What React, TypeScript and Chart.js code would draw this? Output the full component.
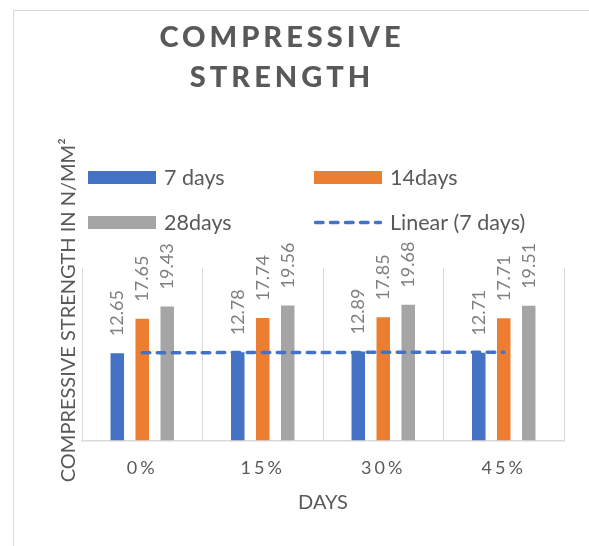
import React, { useEffect, useRef } from 'react';
import { Chart, registerables } from 'chart.js';

Chart.register(...registerables);

const categories = ['0%', '15%', '30%', '45%'];
const days7 = [12.65, 12.78, 12.89, 12.71];
const days14 = [17.65, 17.74, 17.85, 17.71];
const days28 = [19.43, 19.56, 19.68, 19.51];
const trend7 = [12.71, 12.74, 12.77, 12.8];
const seriesLabels = ['7 days', '14days', '28days', 'Linear (7 days)'];
const titleLines = ['COMPRESSIVE', 'STRENGTH'];
const yTitle = 'COMPRESSIVE STRENGTH IN N/MM²';
const xTitle = 'DAYS';
const yMin = 0;
const yMax = 25;

const BLUE = '#4472C4';
const ORANGE = '#ED7D31';
const GRAY = '#A5A5A5';
const TEXT = '#595959';
const LABEL = '#7F7F7F';
const GRID = '#D9D9D9';
const FONT = 'Lato, "Open Sans", sans-serif';

const patchPlugin = {
  id: 'patches',
  beforeDraw(chart: any) {
    const ctx = chart.ctx;
    const t = chart.titleBlock;
    if (t) {
      t.left = 0;
      t.right = 536;
      if (!t.__p) {
        const orig = t.draw.bind(t);
        t.draw = (a: any) => {
          ctx.save();
          (ctx as any).letterSpacing = '4px';
          orig(a);
          ctx.restore();
        };
        t.__p = true;
      }
    }
    const x = chart.scales.x;
    if (x && !x.__p) {
      const o = x.drawLabels.bind(x);
      x.drawLabels = (a: any) => {
        ctx.save();
        (ctx as any).letterSpacing = '3px';
        o(a);
        ctx.restore();
      };
      x.__p = true;
    }
    const y = chart.scales.y;
    if (y && !y.__p) {
      const o = y.drawTitle.bind(y);
      y.drawTitle = (a: any) => {
        ctx.save();
        ctx.translate(0, -44);
        o(a);
        ctx.restore();
      };
      y.__p = true;
    }
  },
};

const dataLabels = {
  id: 'dataLabels',
  afterDatasetsDraw(chart: any) {
    const ctx = chart.ctx;
    chart.data.datasets.forEach((d: any, i: number) => {
      if (d.type === 'line') return;
      const meta = chart.getDatasetMeta(i);
      meta.data.forEach((el: any, j: number) => {
        ctx.save();
        ctx.translate(el.x, el.y - 17);
        ctx.rotate(-Math.PI / 2);
        ctx.font = `18px ${FONT}`;
        ctx.fillStyle = LABEL;
        ctx.textAlign = 'left';
        ctx.textBaseline = 'middle';
        ctx.fillText(Number(d.data[j]).toFixed(2), 0, 0);
        ctx.restore();
      });
    });
  },
};

const gridLegend = {
  id: 'gridLegend',
  afterDraw(chart: any) {
    const { ctx, chartArea } = chart;
    ctx.save();
    chart.data.datasets.forEach((d: any, i: number) => {
      const col = i % 2;
      const row = Math.floor(i / 2);
      const x0 = chartArea.left + (col ? 232 : 6);
      const yc = chartArea.top - (row ? 45.5 : 90.5);
      if (d.type === 'line') {
        ctx.strokeStyle = d.borderColor;
        ctx.lineWidth = d.borderWidth;
        ctx.setLineDash(d.borderDash);
        ctx.lineCap = 'round';
        ctx.beginPath();
        ctx.moveTo(x0 + 1.5, yc);
        ctx.lineTo(x0 + 68 - 1.5, yc);
        ctx.stroke();
        ctx.setLineDash([]);
      } else {
        ctx.fillStyle = d.backgroundColor;
        ctx.fillRect(x0, yc - 6.5, 68, 13);
      }
      ctx.fillStyle = TEXT;
      ctx.font = `21.5px ${FONT}`;
      ctx.textAlign = 'left';
      ctx.textBaseline = 'middle';
      ctx.fillText(d.label, x0 + 76, yc + 1);
    });
    ctx.restore();
  },
};

export default function App() {
  const ref = useRef<HTMLCanvasElement | null>(null);

  useEffect(() => {
    if (!ref.current) return;
    const chart = new Chart(ref.current, {
      type: 'bar',
      data: {
        labels: categories,
        datasets: [
          { type: 'bar', label: seriesLabels[0], data: days7, backgroundColor: BLUE, order: 1 },
          { type: 'bar', label: seriesLabels[1], data: days14, backgroundColor: ORANGE, order: 1 },
          { type: 'bar', label: seriesLabels[2], data: days28, backgroundColor: GRAY, order: 1 },
          {
            type: 'line',
            label: seriesLabels[3],
            data: trend7,
            borderColor: BLUE,
            backgroundColor: BLUE,
            borderWidth: 3.5,
            borderDash: [7.5, 7.5],
            borderCapStyle: 'round',
            pointRadius: 0,
            fill: false,
            tension: 0,
            order: 0,
          } as any,
        ],
      },
      options: {
        responsive: true,
        maintainAspectRatio: false,
        animation: false,
        layout: { padding: { left: 40, right: 25, top: 0, bottom: 31 } },
        datasets: { bar: { barPercentage: 0.54, categoryPercentage: 0.622 } },
        plugins: {
          legend: { display: false },
          tooltip: { enabled: false },
          title: {
            display: true,
            text: titleLines,
            color: TEXT,
            font: { family: FONT, size: 29, weight: '900', lineHeight: 40 / 29 },
            padding: { top: 7, bottom: 170 },
          },
        },
        scales: {
          x: {
            grid: { display: true, color: GRID, lineWidth: 1, drawTicks: false, offset: true },
            border: { display: true, color: GRID, width: 1.5 },
            ticks: { color: TEXT, font: { family: FONT, size: 18 }, padding: 17 },
            title: {
              display: true,
              text: xTitle,
              color: TEXT,
              font: { family: FONT, size: 20 },
              padding: { top: -5, bottom: 0 },
            },
          },
          y: {
            min: yMin,
            max: yMax,
            ticks: { display: false },
            grid: { display: false, drawTicks: false },
            border: { display: false },
            title: {
              display: true,
              text: yTitle,
              color: TEXT,
              font: { family: FONT, size: 20 },
              padding: { top: 3, bottom: 1 },
            },
          },
        },
      } as any,
      plugins: [patchPlugin, dataLabels, gridLegend],
    });
    return () => chart.destroy();
  }, []);

  return (
    <div
      style={{
        position: 'fixed',
        left: 13,
        top: 10,
        width: 620,
        height: 600,
        border: '1px solid #D9D9D9',
        boxSizing: 'border-box',
        background: '#fff',
      }}
    >
      <div style={{ position: 'absolute', left: 0, top: 0, width: 575, height: 535 }}>
        <canvas ref={ref} />
      </div>
    </div>
  );
}
